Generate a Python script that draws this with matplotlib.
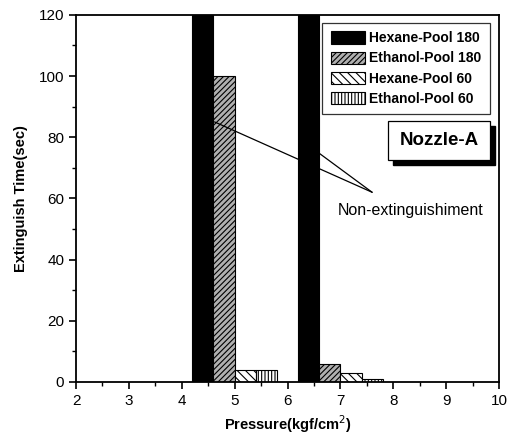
import matplotlib
matplotlib.use("Agg")
import matplotlib.pyplot as plt
import numpy as np
from matplotlib.ticker import MultipleLocator
from matplotlib.patches import Rectangle

plt.rcParams['font.family'] = ['Liberation Sans', 'DejaVu Sans']
plt.rcParams['hatch.linewidth'] = 0.8

pressures = [5, 7]
series_names = ["Hexane-Pool 180", "Ethanol-Pool 180", "Hexane-Pool 60", "Ethanol-Pool 60"]
hexane_180 = [120, 120]
ethanol_180 = [100, 6]
hexane_60 = [4, 3]
ethanol_60 = [4, 1]
series_values = [hexane_180, ethanol_180, hexane_60, ethanol_60]

faces = ['black', '#b0b0b0', 'white', 'white']
hatches = [None, '//////', '\\\\\\\\', '|||||']

fig = plt.figure(figsize=(5.15, 4.37), dpi=100)
ax = fig.add_axes([0.1476, 0.126, 0.8214, 0.840])

width = 0.4
offsets = [-0.6, -0.2, 0.2, 0.6]
x = np.array(pressures, dtype=float)
for name, vals, fc, h, off in zip(series_names, series_values, faces, hatches, offsets):
    ax.bar(x + off, vals, width=width, facecolor=fc, edgecolor='black',
           hatch=h, linewidth=0.8, label=name)

ax.set_xlim(2, 10)
ax.set_ylim(0, 120)
ax.xaxis.set_major_locator(MultipleLocator(1))
ax.xaxis.set_minor_locator(MultipleLocator(0.5))
ax.yaxis.set_major_locator(MultipleLocator(20))
ax.yaxis.set_minor_locator(MultipleLocator(10))
ax.tick_params(which='major', direction='out', length=5, width=1.2, labelsize=11, top=False, right=False)
ax.tick_params(which='minor', direction='out', length=3, width=1.0, top=False, right=False)
for s in ax.spines.values():
    s.set_linewidth(1.3)

ax.set_xlabel("Pressure(kgf/cm$^2$)", fontsize=10.5, fontweight='bold', labelpad=4)
ax.set_ylabel("Extinguish Time(sec)", fontsize=10.5, fontweight='bold', labelpad=8)

leg = ax.legend(loc='upper right', bbox_to_anchor=(0.995, 0.997),
                prop={'weight': 'bold', 'size': 10}, frameon=True, fancybox=False,
                edgecolor='black', handlelength=2.5, handleheight=1.0,
                borderpad=0.6, labelspacing=0.45, handletextpad=0.3)
leg.get_frame().set_linewidth(0.9)

# Nozzle-A label with shadow
nz = ax.text(8.87, 79, "Nozzle-A", fontsize=13.5, fontweight='bold', ha='center', va='center',
             bbox=dict(boxstyle='square,pad=0.6', facecolor='white', edgecolor='black', linewidth=0.9),
             zorder=5)
fig.canvas.draw()
bb = nz.get_bbox_patch().get_window_extent()
fig.patches.append(Rectangle((bb.x0 + 5, bb.y0 - 5), bb.width, bb.height,
                             transform=None, facecolor='black', edgecolor='black',
                             zorder=1, figure=fig))
ax.set_zorder(2)
ax.patch.set_alpha(0)

# Non-extinguishment annotation
ax.annotate("", xy=(4.62, 85), xytext=(7.6, 62),
            arrowprops=dict(arrowstyle='-', color='black', lw=0.9, shrinkA=0, shrinkB=0))
ax.annotate("", xy=(6.58, 75), xytext=(7.6, 62),
            arrowprops=dict(arrowstyle='-', color='black', lw=0.9, shrinkA=0, shrinkB=0))
ax.text(8.33, 56, "Non-extinguishiment", fontsize=11.5, ha='center', va='center')

fig.savefig("out.png", dpi=100)
